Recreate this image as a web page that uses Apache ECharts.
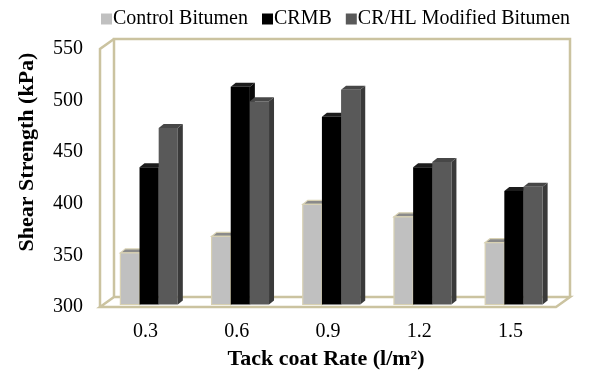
<!DOCTYPE html>
<html>
<head>
<meta charset="utf-8">
<script src="https://cdn.jsdelivr.net/npm/echarts@6/dist/echarts.min.js"></script>
<style>
html,body{margin:0;padding:0;background:#fff;}
#chart{width:589px;height:378px;}
</style>
</head>
<body>
<div id="chart"></div>
<script>
const categories = ['0.3', '0.6', '0.9', '1.2', '1.5'];
const controlBitumen = [350, 366, 397, 385, 360];
const crmb = [433, 511, 482, 433, 410];
const crhlModified = [471, 497, 508, 438, 414];
const seriesNames = ['Control Bitumen', 'CRMB', 'CR/HL Modified Bitumen'];
const yMin = 300, yMax = 550, yStep = 50;

const FONT = '"Liberation Serif", "Times New Roman", serif';
const frameColor = '#CBC3A0';
const faceColors = [
  { front: '#C0C0C0', top: '#8A8A8A', side: '#9A9A9A', stroke: '#D8D1B3' },
  { front: '#000000', top: '#1C1C1C', side: '#0A0A0A', stroke: null },
  { front: '#595959', top: '#474747', side: '#3A3A3A', stroke: null }
];
const depth = { dx: 14, dy: -10 };   // wall depth (px)
const barShift = { dx: 3.5, dy: -2.5 }; // bar plane inside the box
const barDepth = { dx: 5, dy: -4 };

function makeBarRenderer(idx) {
  const c = faceColors[idx];
  return function (params, api) {
    const cat = api.value(0), val = api.value(1);
    const topPt = api.coord([cat, val]);
    const basePt = api.coord([cat, yMin]);
    const band = api.size([1, 0])[0];
    const bw = band * 0.21;
    const cx = topPt[0] + barShift.dx;
    const x0 = cx - 1.5 * bw + idx * bw, x1 = x0 + bw;
    const yT = topPt[1] + barShift.dy, yB = basePt[1] + barShift.dy;
    const dx = barDepth.dx, dy = barDepth.dy;
    const strokeStyle = c.stroke ? { stroke: c.stroke, lineWidth: 1.2 } : {};
    return {
      type: 'group',
      children: [
        { type: 'polygon', shape: { points: [[x1, yB], [x1 + dx, yB + dy], [x1 + dx, yT + dy], [x1, yT]] },
          style: Object.assign({ fill: c.side }, strokeStyle) },
        { type: 'polygon', shape: { points: [[x0, yT], [x0 + dx, yT + dy], [x1 + dx, yT + dy], [x1, yT]] },
          style: Object.assign({ fill: c.top }, strokeStyle) },
        { type: 'rect', shape: { x: x0, y: yT, width: bw, height: yB - yT },
          style: Object.assign({ fill: c.front }, strokeStyle) }
      ]
    };
  };
}

function frameRenderer(params, api) {
  const band = api.size([1, 0])[0];
  const p0 = api.coord([0, yMin]);
  const left = p0[0] - band / 2;
  const right = left + band * categories.length;
  const bottom = p0[1];
  const top = api.coord([0, yMax])[1];
  const dx = depth.dx, dy = depth.dy;
  const ls = { stroke: frameColor, lineWidth: 2.5, fill: null };
  return {
    type: 'group',
    children: [
      { type: 'polygon', shape: { points: [[left, bottom], [left + dx, bottom + dy], [right + dx, bottom + dy], [right, bottom]] },
        style: { fill: '#fff', stroke: frameColor, lineWidth: 2.5 } },
      { type: 'polyline', shape: { points: [[left + dx, bottom + dy], [left + dx, top + dy], [right + dx, top + dy], [right + dx, bottom + dy]] }, style: ls },
      { type: 'polyline', shape: { points: [[left, bottom], [left, top], [left + dx, top + dy]] }, style: ls }
    ]
  };
}

function toData(arr) { return arr.map((v, i) => [i, v]); }

const chart = echarts.init(document.getElementById('chart'), null, { renderer: 'canvas' });
chart.setOption({
  animation: false,
  backgroundColor: '#ffffff',
  grid: { left: 100, right: 33, top: 49, bottom: 71, containLabel: false },
  legend: {
    data: seriesNames,
    left: 101, top: 9, padding: 0,
    icon: 'rect', itemWidth: 11, itemHeight: 11, itemGap: 14,
    textStyle: { fontFamily: FONT, fontSize: 20, color: '#000', padding: [0, 0, 0, -4] }
  },
  xAxis: {
    type: 'category', data: categories, boundaryGap: true,
    axisLine: { show: false }, axisTick: { show: false }, splitLine: { show: false },
    axisLabel: { fontFamily: FONT, fontSize: 20, color: '#000', margin: 15 }
  },
  yAxis: {
    type: 'value', min: yMin, max: yMax, interval: yStep,
    axisLine: { show: false }, axisTick: { show: false }, splitLine: { show: false },
    axisLabel: { fontFamily: FONT, fontSize: 20, color: '#000', margin: 17 }
  },
  graphic: [
    { type: 'text', x: 27, y: 152, rotation: Math.PI / 2,
      style: { text: 'Shear Strength (kPa)', font: 'bold 22px ' + FONT, fill: '#000', align: 'center', verticalAlign: 'middle' } },
    { type: 'text', x: 326, y: 359,
      style: { text: 'Tack coat Rate (l/m²)', font: 'bold 22px ' + FONT, fill: '#000', align: 'center', verticalAlign: 'middle' } }
  ],
  series: [
    { name: 'frame', type: 'custom', renderItem: frameRenderer, data: [[0, yMin]], z: 1, silent: true, clip: false },
    { name: seriesNames[0], type: 'custom', renderItem: makeBarRenderer(0), data: toData(controlBitumen), z: 2,
      itemStyle: { color: faceColors[0].front }, clip: false },
    { name: seriesNames[1], type: 'custom', renderItem: makeBarRenderer(1), data: toData(crmb), z: 2,
      itemStyle: { color: faceColors[1].front }, clip: false },
    { name: seriesNames[2], type: 'custom', renderItem: makeBarRenderer(2), data: toData(crhlModified), z: 2,
      itemStyle: { color: faceColors[2].front }, clip: false }
  ]
});
</script>
</body>
</html>
